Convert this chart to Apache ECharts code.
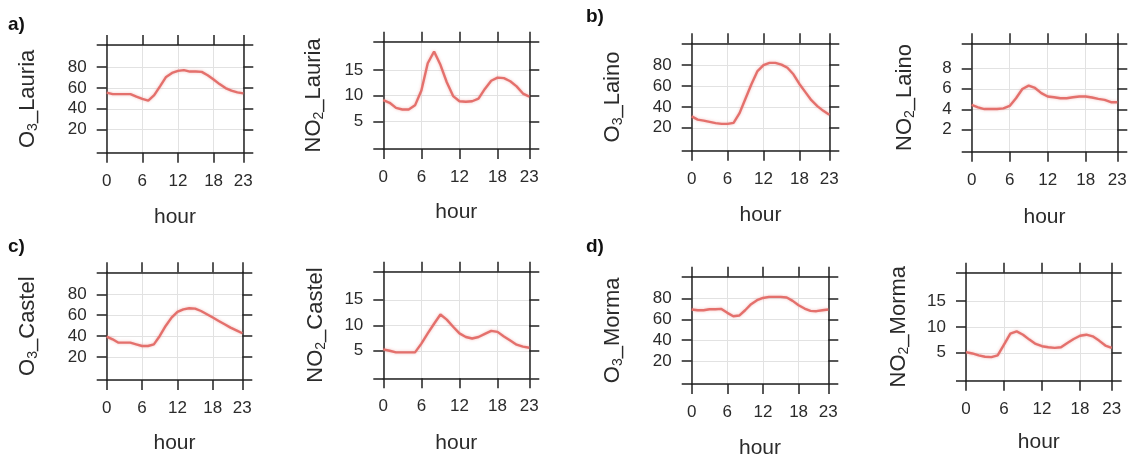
<!DOCTYPE html>
<html>
<head>
<meta charset="utf-8">
<script src="https://cdn.jsdelivr.net/npm/echarts@6/dist/echarts.min.js"></script>
<style>
html,body{margin:0;padding:0;background:#fff;}
#chart{width:1129px;height:455px;}
</style>
</head>
<body>
<div id="chart"></div>
<script>
// ---- data ----
const hours = [0,1,2,3,4,5,6,7,8,9,10,11,12,13,14,15,16,17,18,19,20,21,22,23];
const hourTicks = [0,6,12,18,23];

const o3Lauria  = [55.4,54,54,54,54,51.6,49.4,47.8,53,61.7,70.5,74.3,76.2,77,75.6,75.6,75.3,72,68,63.6,59.8,57.3,55.7,54.7];
const no2Lauria = [9.1,8.6,7.6,7.3,7.3,8.1,11.0,16.3,18.6,16.0,12.6,9.9,8.9,8.8,8.9,9.4,11.3,12.9,13.5,13.4,12.8,11.8,10.4,9.8];
const o3Laino   = [30.9,27.8,26.8,25.6,24.4,23.7,23.7,24.7,34,48,62,74.4,80,82.2,82.2,80.6,77.5,71.3,62,54.2,46.4,40.8,36.2,32.4];
const no2Laino  = [4.42,4.19,4.02,4.02,4.02,4.09,4.32,5.08,5.98,6.31,6.08,5.58,5.25,5.18,5.08,5.08,5.18,5.25,5.25,5.15,5.02,4.92,4.69,4.69];
const o3Castel  = [39.5,36.9,33.7,33.7,33.7,32.1,30.5,30.5,32.1,40.1,49.7,57.7,63.1,65.6,66.6,66.3,64,60.9,57.7,54.5,51.3,48.1,45.5,42.7];
const no2Castel = [5.26,5.0,4.68,4.68,4.68,4.68,6.4,8.4,10.3,12.1,11.1,9.7,8.4,7.7,7.4,7.7,8.3,8.9,8.7,7.8,7.0,6.2,5.8,5.6];
const o3Morma   = [69.5,68.8,68.8,69.8,69.8,70.1,66.3,63.1,63.7,68.8,74.6,78.4,80.6,81.6,81.6,81.6,81,77.8,73.6,70.4,68.2,67.9,68.8,69.5];
const no2Morma  = [5.13,4.87,4.49,4.24,4.17,4.49,6.6,8.7,9.14,8.5,7.55,6.72,6.27,6.08,5.96,6.08,6.9,7.67,8.3,8.5,8.18,7.36,6.4,5.96];

const o3Ticks = [20,40,60,80];
const no2Ticks = [5,10,15];
const no2LainoTicks = [2,4,6,8];
const o3Range = [-2,101];
const no2Range = [-0.4,20.5];
const no2LainoRange = [-0.15,10.45];

const panelLetters = ['a)','b)','c)','d)'];

// ---- panel definitions (data refs) ----
const panels = [
  {gas:'3', site:'Lauria', values:o3Lauria,  ticks:o3Ticks,       range:o3Range},
  {gas:'2', site:'Lauria', values:no2Lauria, ticks:no2Ticks,      range:no2Range},
  {gas:'3', site:'Laino',  values:o3Laino,   ticks:o3Ticks,       range:o3Range},
  {gas:'2', site:'Laino',  values:no2Laino,  ticks:no2LainoTicks, range:no2LainoRange},
  {gas:'3', site:'Castel', values:o3Castel,  ticks:o3Ticks,       range:o3Range},
  {gas:'2', site:'Castel', values:no2Castel, ticks:no2Ticks,      range:no2Range},
  {gas:'3', site:'Morma',  values:o3Morma,   ticks:o3Ticks,       range:o3Range},
  {gas:'2', site:'Morma',  values:no2Morma,  ticks:no2Ticks,      range:no2Range}
];

// ---- layout (box left, top, right, bottom; name gaps) ----
const layout = [
  {box:[106.7,45,243.3,152.7],  yGap:67, xGap:54},
  {box:[383.3,41.7,529.3,149],  yGap:57, xGap:53},
  {box:[691.7,43.3,829.3,150.7],yGap:67, xGap:54},
  {box:[971.7,43.3,1117.3,151.7],yGap:55, xGap:55},
  {box:[106.7,272.3,242.3,380], yGap:67, xGap:53},
  {box:[383.3,271.7,529.3,378.3],yGap:55, xGap:54},
  {box:[691.7,276.7,828.3,384], yGap:67, xGap:54},
  {box:[966,272.7,1111.7,380.7],yGap:55, xGap:51}
];
const letterPos = [[8,15],[586,7],[8,237],[586,237]];

const AX = '#222222', GRID = '#e2e2e2', TXT = '#2b2b2b', LINE = '#e4706c';
const FONT = '"Liberation Sans", Arial, sans-serif';

const grids = [], xAxes = [], yAxes = [], series = [], titles = [];

panels.forEach((p, i) => {
  const L = layout[i];
  const [l, t, r, b] = L.box;
  grids.push({left:l, top:t, width:r-l, height:b-t, containLabel:false, outerBoundsMode:'none'});
  const lineStyle = {color:AX, width:1.5};
  xAxes.push({
    gridIndex:i, type:'value', position:'bottom', min:0, max:23,
    axisLine:{show:true, onZero:false, lineStyle},
    axisTick:{show:true, inside:false, length:10, customValues:hourTicks, lineStyle},
    axisLabel:{show:true, customValues:hourTicks, margin:20, fontSize:17, color:TXT, fontFamily:FONT},
    splitLine:{show:true, lineStyle:{color:GRID, width:1}},
    name:'hour', nameLocation:'middle', nameGap:L.xGap,
    nameTextStyle:{fontSize:21, color:TXT, fontFamily:FONT}
  });
  xAxes.push({
    gridIndex:i, type:'value', position:'top', min:0, max:23,
    axisLine:{show:true, onZero:false, lineStyle},
    axisTick:{show:true, inside:false, length:10, customValues:hourTicks, lineStyle},
    axisLabel:{show:false}, splitLine:{show:false}
  });
  const yTickVals = [p.range[0]].concat(p.ticks, [p.range[1]]);
  const gasName = p.gas === '3' ? 'O' : 'NO';
  yAxes.push({
    gridIndex:i, type:'value', position:'left', min:p.range[0], max:p.range[1],
    axisLine:{show:true, onZero:false, lineStyle},
    axisTick:{show:true, inside:false, length:10, customValues:yTickVals, lineStyle},
    axisLabel:{show:true, customValues:p.ticks, margin:20, fontSize:17, color:TXT, fontFamily:FONT},
    splitLine:{show:true, lineStyle:{color:GRID, width:1}},
    name:'{m|' + gasName + '}{s|' + p.gas + '}{m|_' + p.site + '}',
    nameLocation:'middle', nameRotate:90, nameGap:L.yGap,
    nameTextStyle:{
      color:TXT, fontFamily:FONT,
      rich:{
        m:{fontSize:22, lineHeight:24, color:TXT, fontFamily:FONT},
        s:{fontSize:14, lineHeight:14, verticalAlign:'bottom', color:TXT, fontFamily:FONT}
      }
    }
  });
  yAxes.push({
    gridIndex:i, type:'value', position:'right', min:p.range[0], max:p.range[1],
    axisLine:{show:true, onZero:false, lineStyle},
    axisTick:{show:true, inside:false, length:10, customValues:yTickVals, lineStyle},
    axisLabel:{show:false}, splitLine:{show:false}
  });
  series.push({
    type:'line', xAxisIndex:2*i, yAxisIndex:2*i,
    data: hours.map((h, k) => [h, p.values[k]]),
    showSymbol:false, symbol:'none', smooth:false,
    lineStyle:{color:LINE, width:2.4, shadowColor:'rgba(228,112,108,0.45)', shadowBlur:3},
    z:3, silent:true
  });
});

panelLetters.forEach((txt, k) => {
  titles.push({text:txt, left:letterPos[k][0], top:letterPos[k][1], padding:0,
    textStyle:{fontSize:19, fontWeight:'bold', color:'#111', fontFamily:FONT}});
});

const chart = echarts.init(document.getElementById('chart'), null, {renderer:'canvas'});
chart.setOption({
  backgroundColor:'#ffffff',
  animation:false,
  title:titles,
  grid:grids,
  xAxis:xAxes,
  yAxis:yAxes,
  series:series
});
</script>
</body>
</html>
